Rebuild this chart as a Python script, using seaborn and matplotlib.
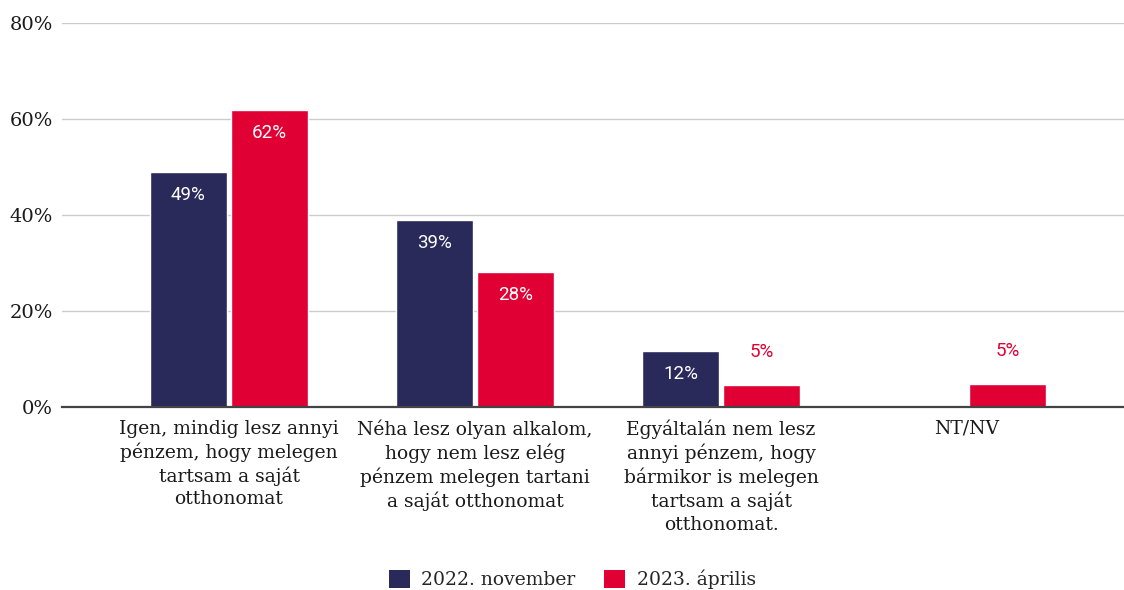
import matplotlib
matplotlib.use("Agg")
import matplotlib.pyplot as plt
import seaborn as sns
import pandas as pd
from matplotlib.patches import Patch
from matplotlib.ticker import FuncFormatter, FixedLocator

categories = [
    "Igen, mindig lesz annyi\npénzem, hogy melegen\ntartsam a saját\notthonomat",
    "Néha lesz olyan alkalom,\nhogy nem lesz elég\npénzem melegen tartani\na saját otthonomat",
    "Egyáltalán nem lesz\nannyi pénzem, hogy\nbármikor is melegen\ntartsam a saját\notthonomat.",
    "NT/NV",
]
series = ["2022. november", "2023. április"]
nov_values = [49, 39, 11.7, 0]
apr_values = [61.9, 28.1, 4.6, 4.8]
nov_labels = ["49%", "39%", "12%", ""]
apr_labels = ["62%", "28%", "5%", "5%"]
y_ticks = [0, 20, 40, 60, 80]

colors = ["#29295a", "#e10033"]

df = pd.DataFrame({
    "cat": categories * 2,
    "val": nov_values + apr_values,
    "series": [series[0]] * 4 + [series[1]] * 4,
})

sns.set_theme(style="white")
serif = ["DejaVu Serif"]
sans = ["Roboto", "DejaVu Sans"]

fig = plt.figure(figsize=(11.24, 5.9), dpi=100)
ax = fig.add_axes([62 / 1124, 1 - 407 / 590, 1 - 62 / 1124, (407 - 23) / 590])

sns.barplot(data=df, x="cat", y="val", hue="series", order=categories,
            hue_order=series, palette=colors, width=0.66, gap=0.06,
            saturation=1, legend=False, ax=ax, zorder=3)

ax.set_ylim(0, 80)
ax.set_xlim(-0.679, 3.638)
ax.yaxis.set_major_locator(FixedLocator(y_ticks))
ax.yaxis.set_major_formatter(FuncFormatter(lambda v, p: f"{v:.0f}%"))
ax.grid(axis="y", color="#cccccc", linewidth=1, zorder=0)
ax.set_axisbelow(True)
for s in ["top", "right", "left"]:
    ax.spines[s].set_visible(False)
ax.spines["bottom"].set_color("#444444")
ax.spines["bottom"].set_linewidth(1.6)
ax.spines["bottom"].set_zorder(4)
ax.set_xlabel("")
ax.set_ylabel("")
ax.tick_params(axis="both", length=0)
ax.tick_params(axis="y", pad=6.5)
ax.tick_params(axis="x", pad=9)
for t in ax.get_yticklabels():
    t.set_family(serif)
    t.set_fontsize(14)
    t.set_color("#1a1a1a")
for t in ax.get_xticklabels():
    t.set_family(serif)
    t.set_fontsize(13.5)
    t.set_color("#1a1a1a")
    t.set_linespacing(1.3)

all_labels = [nov_labels, apr_labels]
for ci, cont in enumerate(ax.containers):
    for bar, lab in zip(cont, all_labels[ci]):
        if not lab:
            continue
        h = bar.get_height()
        xc = bar.get_x() + bar.get_width() / 2
        if h >= 8:
            ax.annotate(lab, (xc, h), xytext=(0, -16.5), textcoords="offset points",
                        ha="center", va="center", color="white", fontsize=13.5,
                        family=sans, zorder=5)
        else:
            ax.annotate(lab, (xc, h), xytext=(0, 24), textcoords="offset points",
                        ha="center", va="center", color=colors[ci], fontsize=13.5,
                        family=sans, zorder=5)

handles = [Patch(facecolor=c, edgecolor="none") for c in colors]
fig.legend(handles, series, loc="center", bbox_to_anchor=(0.509, 0.018), ncol=2,
           frameon=False, prop={"family": serif, "size": 13.5},
           handlelength=1.15, handleheight=1.15, handletextpad=0.6, columnspacing=1.5)

fig.savefig("out.png", dpi=100)
